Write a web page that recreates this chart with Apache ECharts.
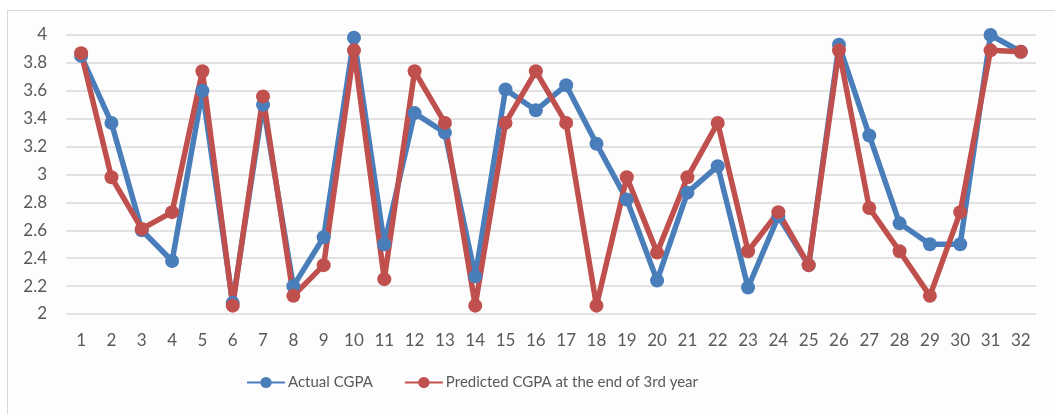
<!DOCTYPE html>
<html>
<head>
<meta charset="utf-8">
<script src="https://cdn.jsdelivr.net/npm/echarts@6/dist/echarts.min.js"></script>
<style>
html,body{margin:0;padding:0;background:#fff;}
#frame{position:absolute;left:7px;top:10px;width:1048px;height:404px;border-left:1.5px solid #d9d9d9;border-top:1.5px solid #d9d9d9;box-sizing:border-box;background:#fdfdfd;}
#chart{position:absolute;left:0;top:0;width:1055px;height:414px;}
</style>
</head>
<body>
<div id="frame"></div>
<div id="chart"></div>
<script>
var categories = ['1','2','3','4','5','6','7','8','9','10','11','12','13','14','15','16','17','18','19','20','21','22','23','24','25','26','27','28','29','30','31','32'];
var actualCGPA = [3.85,3.37,2.60,2.38,3.60,2.08,3.50,2.20,2.55,3.98,2.50,3.44,3.30,2.27,3.61,3.46,3.64,3.22,2.82,2.24,2.87,3.06,2.19,2.70,2.35,3.93,3.28,2.65,2.50,2.50,4.00,3.88];
var predictedCGPA = [3.87,2.98,2.61,2.73,3.74,2.06,3.56,2.13,2.35,3.89,2.25,3.74,3.37,2.06,3.37,3.74,3.37,2.06,2.98,2.44,2.98,3.37,2.45,2.73,2.35,3.89,2.76,2.45,2.13,2.73,3.89,3.88];
var seriesNames = ['Actual CGPA','Predicted CGPA at the end of 3rd year'];
var yTicks = {min:2, max:4, interval:0.2};

var chart = echarts.init(document.getElementById('chart'), null, {renderer:'canvas'});
var font = 'Lato, Roboto, sans-serif';
chart.setOption({
  backgroundColor: 'transparent',
  animation: false,
  grid: {left:66, right:19, top:35, height:279, containLabel:false},
  legend: {
    bottom: 19,
    left: 241,
    itemWidth: 38,
    itemHeight: 14,
    itemGap: 31,
    textStyle: {color:'#595959', fontSize:15, fontFamily:font, padding:[0,0,0,-2]},
    data: seriesNames
  },
  xAxis: {
    type: 'category',
    data: categories,
    boundaryGap: true,
    axisLine: {show:false},
    axisTick: {show:false},
    axisLabel: {color:'#595959', fontSize:17, fontFamily:font, margin:18, interval:0}
  },
  yAxis: {
    type: 'value',
    min: yTicks.min,
    max: yTicks.max,
    interval: yTicks.interval,
    axisLine: {show:false},
    axisTick: {show:false},
    axisLabel: {color:'#595959', fontSize:17, fontFamily:font, margin:19,
      formatter: function(v){ return String(Math.round(v*10)/10); }},
    splitLine: {lineStyle:{color:'#d9d9d9', width:1.5}}
  },
  series: [
    {
      name: seriesNames[0], type: 'line', data: actualCGPA,
      symbol: 'circle', symbolSize: 14,
      lineStyle: {color:'#4a7ebb', width:5.5},
      itemStyle: {color:'#4a7ebb'}
    },
    {
      name: seriesNames[1], type: 'line', data: predictedCGPA,
      symbol: 'circle', symbolSize: 14,
      lineStyle: {color:'#c0504d', width:5.5},
      itemStyle: {color:'#c0504d'}
    }
  ]
});
</script>
</body>
</html>
